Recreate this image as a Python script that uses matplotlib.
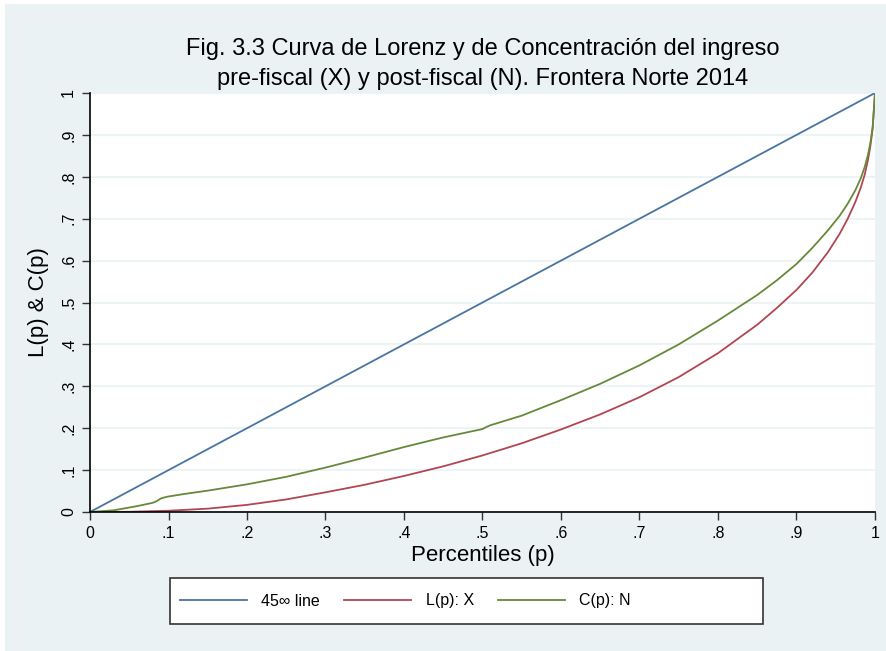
import matplotlib
matplotlib.use('Agg')
import matplotlib.pyplot as plt
from matplotlib.patches import Rectangle

# Percentiles and curve values
p_x = [0, .05, .1, .15, .2, .25, .3, .35, .4, .45, .5, .55, .6, .65, .7, .75,
       .8, .85, .875, .9, .92, .94, .955, .965, .975, .982, .987, .991, .994,
       .997, 1]
lorenz_x = [0, .0005, .003, .008, .017, .030, .047, .065, .086, .109, .135,
            .164, .197, .233, .274, .322, .379, .447, .487, .530, .571, .620,
            .664, .699, .740, .775, .806, .840, .872, .915, 1.0]

p_n = [0, .03, .06, .08, .085, .09, .095, .1, .12, .15, .2, .25, .3, .35, .4,
       .45, .5, .505, .51, .55, .6, .65, .7, .75, .8, .85, .875, .9, .92, .94,
       .955, .965, .975, .982, .987, .991, .994, .997, 1]
conc_n = [0, .004, .014, .022, .026, .032, .035, .037, .043, .051, .066, .084,
          .106, .130, .155, .178, .198, .203, .207, .230, .267, .306, .350,
          .400, .457, .518, .553, .592, .630, .672, .707, .735, .768, .797,
          .824, .852, .880, .918, 1.0]

diag = [0, 1]

ticks = [0, .1, .2, .3, .4, .5, .6, .7, .8, .9, 1]
tick_labels = ['0', '.1', '.2', '.3', '.4', '.5', '.6', '.7', '.8', '.9', '1']

BG = '#EAF2F3'
plt.rcParams['font.family'] = ['Liberation Sans', 'DejaVu Sans']

fig = plt.figure(figsize=(8.87, 6.51), dpi=100, facecolor='white')
fig.patches.append(Rectangle((5 / 887, 0), 1, 1 - 4 / 651, transform=fig.transFigure,
                             facecolor=BG, edgecolor='none', zorder=-10))

ax = fig.add_axes([90 / 887, 1 - 512 / 651, 785 / 887, 419 / 651])
ax.set_facecolor('white')

ax.plot(diag, diag, color='#4A74A2', lw=1.3, label='45\u221e line')
ax.plot(p_x, lorenz_x, color='#B04652', lw=1.3, label='L(p): X')
ax.plot(p_n, conc_n, color='#66893A', lw=1.3, label='C(p): N')

ax.set_xlim(0, 1)
ax.set_ylim(0, 1)
ax.set_xticks(ticks)
ax.set_xticklabels(tick_labels)
ax.set_yticks(ticks)
ax.set_yticklabels(tick_labels, rotation=90, va='center')
ax.tick_params(labelsize=11.5, length=6, width=1, color='#333333', pad=4)
ax.yaxis.grid(True, color=BG, lw=1.2)
ax.set_axisbelow(True)
for s in ['top', 'right']:
    ax.spines[s].set_visible(False)
for s in ['left', 'bottom']:
    ax.spines[s].set_color('black')
    ax.spines[s].set_linewidth(1.2)

ax.set_xlabel('Percentiles (p)', fontsize=16, labelpad=3)
ax.set_ylabel('L(p) & C(p)', fontsize=16, labelpad=9)
ax.set_title('Fig. 3.3 Curva de Lorenz y de Concentración del ingreso\n'
             'pre-fiscal (X) y post-fiscal (N). Frontera Norte 2014',
             fontsize=17, linespacing=1.45, pad=6)

# legend box drawn separately, like Stata's fixed-width key
fig.patches.append(Rectangle((170 / 887, 1 - 624 / 651), 593 / 887, 46 / 651,
                             transform=fig.transFigure, facecolor='white',
                             edgecolor='#333333', lw=1.2, zorder=-5))
leg = fig.legend(loc='center left', bbox_to_anchor=(180 / 887, 1 - 601 / 651),
                 ncol=3, fontsize=11.5, frameon=False, handlelength=4.2,
                 handletextpad=0.9, columnspacing=1.5, borderpad=0,
                 borderaxespad=0)

fig.savefig('out.png', dpi=100, facecolor=fig.get_facecolor())
